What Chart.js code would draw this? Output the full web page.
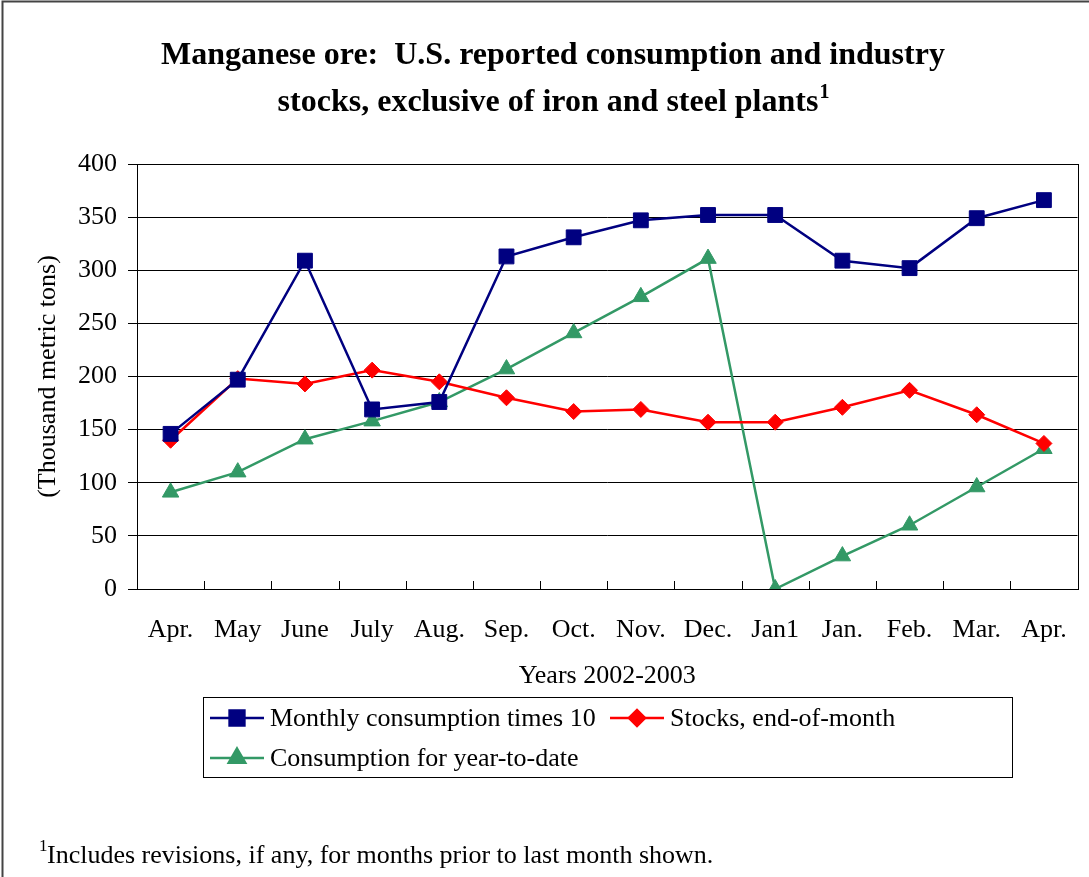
<!DOCTYPE html>
<html>
<head>
<meta charset="utf-8">
<script src="https://cdn.jsdelivr.net/npm/chart.js@4/dist/chart.umd.min.js"></script>
<style>
  html, body { margin: 0; padding: 0; background: #fff; }
  #wrap { position: relative; width: 1089px; height: 877px; }
</style>
</head>
<body>
<div id="wrap"><canvas id="mnChart" width="1089" height="877"></canvas></div>
<script>
// Months along the x axis (Apr. 2002 through Apr. 2003, with the Jan1 reset)
const months = ["Apr.", "May", "June", "July", "Aug.", "Sep.", "Oct.", "Nov.", "Dec.", "Jan1", "Jan.", "Feb.", "Mar.", "Apr."];

// Series values, thousand metric tons
const monthlyTimes10 = [146, 197, 309, 169, 176, 313, 331, 347, 352, 352, 309, 302, 349, 366];
const stocksEndOfMonth = [140, 198, 193, 206, 195, 180, 167, 169, 157, 157, 171, 187, 164, 137];
const yearToDate = [91, 110, 141, 158, 176, 207, 241, 275, 311, 0, 31, 60, 96, 132];

const titleLines = ["Manganese ore:  U.S. reported consumption and industry", "stocks, exclusive of iron and steel plants"];
const yAxisTitle = "(Thousand metric tons)";
const xAxisTitle = "Years 2002-2003";
const footnote = "Includes revisions, if any, for months prior to last month shown.";

const SERIF = '"Liberation Serif", "Times New Roman", Times, serif';
const FS = 26; // body text size
const tickFont = { family: SERIF, size: FS };

// Draws the text, frame, inward x ticks and the boxed legend around the plot
const decorations = {
    id: "decorations",
    beforeDatasetsDraw(chart) {
        const { ctx, chartArea: a } = chart;
        ctx.save();
        ctx.strokeStyle = "#000";
        ctx.lineWidth = 1;
        ctx.strokeRect(Math.round(a.left) + 0.5, Math.round(a.top) + 0.5, Math.round(a.right - a.left), Math.round(a.bottom - a.top));

        // small ticks between categories, pointing into the plot
        const step = (a.right - a.left) / months.length;
        ctx.beginPath();
        for (let i = 1; i < months.length; i++) {
            const x = Math.round(a.left + i * step) + 0.5;
            ctx.moveTo(x, a.bottom);
            ctx.lineTo(x, a.bottom - 8);
        }
        ctx.stroke();
        ctx.restore();
    },
    afterDraw(chart) {
        const { ctx, chartArea: a } = chart;
        ctx.save();

        // outer frame of the picture
        ctx.strokeStyle = "#444";
        ctx.lineWidth = 2;
        ctx.beginPath();
        ctx.moveTo(2.5, 900);
        ctx.lineTo(2.5, 1.5);
        ctx.lineTo(1100, 1.5);
        ctx.stroke();

        ctx.fillStyle = "#000";
        ctx.textBaseline = "alphabetic";

        // title (bold, two lines, superscript 1)
        ctx.font = "bold 32px " + SERIF;
        ctx.textAlign = "center";
        ctx.fillText(titleLines[0], 553, 64);
        const w2 = ctx.measureText(titleLines[1]).width;
        ctx.font = "bold 20px " + SERIF;
        const sw = ctx.measureText("1").width;
        const start2 = 553 - (w2 + sw) / 2;
        ctx.textAlign = "left";
        ctx.font = "bold 32px " + SERIF;
        ctx.fillText(titleLines[1], start2, 111);
        ctx.font = "bold 20px " + SERIF;
        ctx.fillText("1", start2 + w2 + 1, 98);

        // axis titles
        ctx.font = FS + "px " + SERIF;
        ctx.textAlign = "center";
        ctx.textBaseline = "middle";
        ctx.fillText(xAxisTitle, (a.left + a.right) / 2, 676);
        ctx.save();
        ctx.translate(48, (a.top + a.bottom) / 2);
        ctx.rotate(-Math.PI / 2);
        ctx.fillText(yAxisTitle, 0, 0);
        ctx.restore();

        // legend box
        ctx.strokeStyle = "#000";
        ctx.lineWidth = 1;
        ctx.strokeRect(203.5, 697.5, 809, 80);
        const slots = [
            { x: 210, y: 718 },
            { x: 610, y: 718 },
            { x: 210, y: 758 }
        ];
        chart.data.datasets.forEach((ds, i) => {
            const s = slots[i];
            ctx.strokeStyle = ds.borderColor;
            ctx.lineWidth = ds.borderWidth;
            ctx.beginPath();
            ctx.moveTo(s.x, s.y);
            ctx.lineTo(s.x + 54, s.y);
            ctx.stroke();
            ctx.fillStyle = ds.pointBackgroundColor;
            ctx.strokeStyle = ds.pointBorderColor;
            Chart.helpers.drawPoint(ctx, {
                pointStyle: ds.pointStyle,
                radius: ds.pointRadius,
                rotation: 0,
                borderWidth: ds.pointBorderWidth
            }, s.x + 27, s.y);
            ctx.fillStyle = "#000";
            ctx.textAlign = "left";
            ctx.textBaseline = "middle";
            ctx.font = FS + "px " + SERIF;
            ctx.fillText(ds.label, s.x + 60, s.y + 1);
        });

        // footnote
        ctx.textBaseline = "alphabetic";
        ctx.font = "17px " + SERIF;
        ctx.fillText("1", 39, 851);
        ctx.font = FS + "px " + SERIF;
        ctx.fillText(footnote, 47, 863);
        ctx.restore();
    }
};

const ctx = document.getElementById("mnChart").getContext("2d");
const mnChart = new Chart(ctx, {
    type: "line",
    data: {
        labels: months,
        datasets: [
            {
                label: "Monthly consumption times 10",
                data: monthlyTimes10,
                borderColor: "#000080",
                backgroundColor: "#000080",
                pointBackgroundColor: "#000080",
                pointBorderColor: "#000080",
                borderWidth: 2.5,
                pointStyle: "rect",
                pointRadius: 10.5,
                pointBorderWidth: 1
            },
            {
                label: "Stocks, end-of-month",
                data: stocksEndOfMonth,
                borderColor: "#ff0000",
                backgroundColor: "#ff0000",
                pointBackgroundColor: "#ff0000",
                pointBorderColor: "#ff0000",
                borderWidth: 2.5,
                pointStyle: "rectRot",
                pointRadius: 8,
                pointBorderWidth: 1
            },
            {
                label: "Consumption for year-to-date",
                data: yearToDate,
                borderColor: "#339966",
                backgroundColor: "#339966",
                pointBackgroundColor: "#339966",
                pointBorderColor: "#339966",
                borderWidth: 2.5,
                pointStyle: "triangle",
                pointRadius: 9.5,
                pointBorderWidth: 1
            }
        ]
    },
    options: {
        responsive: false,
        animation: false,
        layout: { padding: { top: 164, right: 11, bottom: 0, left: 0 } },
        plugins: {
            legend: { display: false },
            title: { display: false },
            tooltip: { enabled: false }
        },
        elements: { line: { tension: 0 } },
        scales: {
            x: {
                offset: true,
                grid: { display: true, drawOnChartArea: false, drawTicks: false },
                border: { color: "#000", width: 1 },
                ticks: { font: tickFont, color: "#000", padding: 26, maxRotation: 0, autoSkip: false },
                afterFit(scale) {
                    scale.height = 877 - 589;
                    scale.paddingLeft = 0;
                    scale.paddingRight = 0;
                }
            },
            y: {
                min: 0,
                max: 400,
                ticks: { stepSize: 50, font: tickFont, color: "#000", padding: 11 },
                grid: { color: "#000", lineWidth: 1, tickLength: 9 },
                border: { color: "#000", width: 1 },
                afterFit(scale) { scale.width = 137; }
            }
        }
    },
    plugins: [decorations]
});
</script>
</body>
</html>
